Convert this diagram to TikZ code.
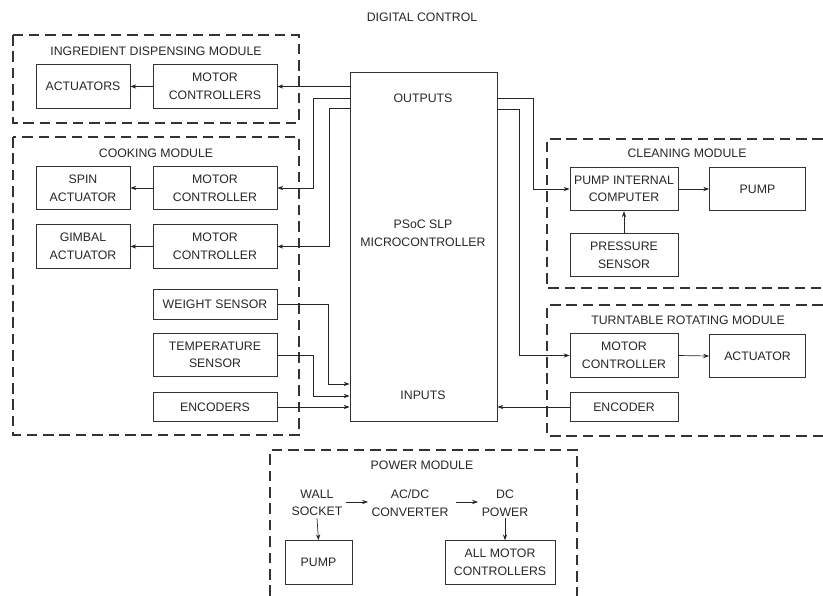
\documentclass[tikz,border=0pt]{standalone}
\usepackage{fontspec}
\setmainfont{Liberation Sans}
\usetikzlibrary{arrows.meta}
\begin{document}
\begin{tikzpicture}[x=0.03cm,y=-0.03cm,
  every node/.style={font=\fontsize{10.5}{15}\selectfont, text=black!85, align=center, inner sep=1pt},
  blk/.style={draw=black!80, line width=0.7pt, rectangle, minimum height=1.31cm},
  wS/.style={minimum width=2.82cm},
  wM/.style={minimum width=3.72cm},
  wR/.style={minimum width=3.24cm},
  wP/.style={minimum width=2.88cm},
  hS/.style={minimum height=0.88cm},
  module/.style={draw=black!80, line width=0.9pt, dash pattern=on 9pt off 5pt},
  arr/.style={draw=black!85, line width=0.6pt, -{Stealth[length=5pt,width=3.6pt]}},
  lbl/.style={inner sep=0pt}
]
\useasboundingbox (0,0) rectangle (823,596);

% title
\node[lbl] (title) at (422,17) {DIGITAL CONTROL};

% modules
\draw[module] (13,35) rectangle (299,123);
\node[lbl] (tIng) at (156,51) {INGREDIENT DISPENSING MODULE};
\draw[module] (13,137) rectangle (299,435);
\node[lbl] (tCook) at (156,153) {COOKING MODULE};
\draw[module] (823,139) -- (547,139) -- (547,288) -- (823,288);
\node[lbl] (tClean) at (687,153) {CLEANING MODULE};
\draw[module] (823,305) -- (547,305) -- (547,436) -- (823,436);
\node[lbl] (tTurn) at (688,320) {TURNTABLE ROTATING MODULE};
\draw[module] (270,596) -- (270,450) -- (577,450) -- (577,596);
\node[lbl] (tPow) at (422,465) {POWER MODULE};

% microcontroller
\node[blk, minimum width=4.41cm, minimum height=10.47cm] (micro) at (423.5,246.5) {};
\node[lbl] (outs) at (423,98) {OUTPUTS};
\node[lbl] (mcname) at (423,233) {PSoC SLP\\MICROCONTROLLER};
\node[lbl] (ins) at (423,395) {INPUTS};

% ingredient dispensing
\node[blk, wS] (act1) at (83,86.5) {ACTUATORS};
\node[blk, wM] (mc1) at (215,86.5) {MOTOR\\CONTROLLERS};

% cooking
\node[blk, wS] (spin) at (83,188) {SPIN\\ACTUATOR};
\node[blk, wM] (mc2) at (215,188) {MOTOR\\CONTROLLER};
\node[blk, wS] (gimbal) at (83,246.5) {GIMBAL\\ACTUATOR};
\node[blk, wM] (mc3) at (215,246.5) {MOTOR\\CONTROLLER};
\node[blk, wM, hS] (weight) at (215,304.5) {WEIGHT SENSOR};
\node[blk, wM] (temp) at (215,355) {TEMPERATURE\\SENSOR};
\node[blk, wM, hS] (enc) at (215,407) {ENCODERS};

% cleaning
\node[blk, wR] (pic) at (624,189) {PUMP INTERNAL\\COMPUTER};
\node[blk, wP] (pump) at (757.5,189) {PUMP};
\node[blk, wR] (press) at (624,255) {PRESSURE\\SENSOR};

% turntable
\node[blk, wR] (mc4) at (624,355.5) {MOTOR\\CONTROLLER};
\node[blk, wP] (act2) at (757.5,356) {ACTUATOR};
\node[blk, wR, hS] (enc2) at (624,407) {ENCODER};

% power
\node[lbl] (ws) at (317,503) {WALL\\SOCKET};
\node[lbl] (acdc) at (410,503) {AC/DC\\CONVERTER};
\node[lbl] (dc) at (505,503) {DC\\POWER};
\node[blk, minimum width=2.01cm] (pump2) at (318.5,562.5) {PUMP};
\node[blk, minimum width=3.3cm] (allmc) at (500,562.5) {ALL MOTOR\\CONTROLLERS};

% left outputs
\draw[arr] (micro.west |- mc1.east) -- (mc1.east);
\draw[arr] (micro.west |- 0,98) -- (313,98) |- (mc2.east);
\draw[arr] (micro.west |- 0,108) -- (329,108) |- (mc3.east);
\draw[arr] (mc1.west) -- (act1.east);
\draw[arr] (mc2.west) -- (spin.east);
\draw[arr] (mc3.west) -- (gimbal.east);

% left inputs
\draw[arr] (weight.east) -- (328,304.5) |- (micro.west |- 0,384);
\draw[arr] (temp.east) -- (313,355) |- (micro.west |- 0,396);
\draw[arr] (enc.east) -- (micro.west |- enc.east);

% right outputs
\draw[arr] (micro.east |- 0,98) -- (533,98) |- (pic.west);
\draw[arr] (micro.east |- 0,109) -- (519,109) |- (mc4.west);
\draw[arr] (enc2.west) -- (micro.east |- enc2.west);
\draw[arr] (pic.east) -- (pump.west);
\draw[arr] (press.north) -- (pic.south);
\draw[arr] (mc4.east) -- (act2.west);

% power
\draw[arr] (346,502) -- (368,502);
\draw[arr] (456,502) -- (478,502);
\draw[arr] (ws.south) ++(0,2) -- (pump2.north);
\draw[arr] (dc.south) ++(0,2) -- (dc.south |- allmc.north);
\end{tikzpicture}
\end{document}
